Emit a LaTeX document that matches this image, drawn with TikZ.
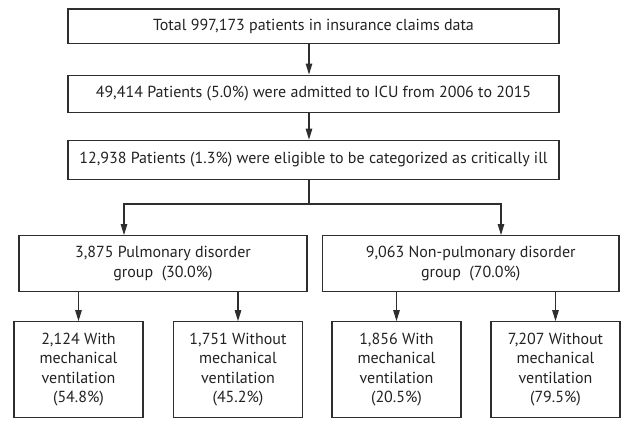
\documentclass[tikz,border=0pt]{standalone}
\usepackage{fontspec}
\setmainfont{PT Sans}
\usepackage{tikz}
\usetikzlibrary{arrows.meta, positioning, calc}
\definecolor{flowline}{HTML}{2e2e2e}
\definecolor{flowtext}{HTML}{222222}

\begin{document}
\begin{tikzpicture}[
    x=1pt, y=-1pt,
    font=\fontsize{16}{19.5}\selectfont,
    wide/.style={rectangle, draw=flowline, line width=1.1pt, text=flowtext, minimum width=491pt, minimum height=36pt, inner sep=0pt, align=center},
    group/.style={rectangle, draw=flowline, line width=1.1pt, text=flowtext, minimum height=56pt, inner sep=0pt, align=center},
    leaf/.style={rectangle, draw=flowline, line width=1.1pt, text=flowtext, minimum width=129pt, minimum height=96pt, inner sep=0pt, align=center},
    arrow/.style={-{Triangle[width=6.5pt, length=11pt]}, line width=1.1pt, flowline},
    link/.style={line width=1.1pt, flowline}
]
\useasboundingbox (0,0) rectangle (633,426);

% Column: the three cohort steps
\node[wide, minimum height=34.5pt] (total) at (313.5,26.25) {Total 997,173 patients in insurance claims data};
\node[wide, minimum height=37pt, below=30.5pt of total] (admit) {49,414 Patients (5.0\%) were admitted to ICU from 2006 to 2015};
\node[wide, minimum height=39pt, below=27pt of admit] (eligible) {12,938 Patients (1.3\%) were eligible to be categorized as critically ill};

% Row 2: disorder groups
\node[group, minimum width=288pt] (pulm) at (163,263.6) {3,875 Pulmonary disorder\\group\ \ (30.0\%)};
\node[group, minimum width=296.5pt] (nonpulm) at (470.75,263.6) {9,063 Non-pulmonary disorder\\group\ \ (70.0\%)};

% Row 3: ventilation
\node[leaf] (pulm_mv) at (78.5,369.7) {2,124 With\\mechanical\\ventilation\\(54.8\%)};
\node[leaf] (pulm_nomv) at (238,369.7) {1,751 Without\\mechanical\\ventilation\\(45.2\%)};
\node[leaf] (non_mv) at (396.5,369.7) {1,856 With\\mechanical\\ventilation\\(20.5\%)};
\node[leaf] (non_nomv) at (555.5,369.7) {7,207 Without\\mechanical\\ventilation\\(79.5\%)};

% Spine and fork
\coordinate (spine) at (309,0);
\coordinate (fork) at (309,204);

\draw[arrow] (total.south -| spine) -- (admit.north -| spine);
\draw[arrow] (admit.south -| spine) -- (eligible.north -| spine);
\draw[link] (eligible.south -| spine) -- (fork);
\draw[arrow] (fork) -| ([xshift=-39pt]pulm.north);
\draw[arrow] (fork) -| ([xshift=30.25pt]nonpulm.north);

% Leaf arrows
\draw[arrow] (pulm.south -| pulm_mv) -- (pulm_mv.north);
\draw[arrow] (pulm.south -| pulm_nomv) -- (pulm_nomv.north);
\draw[arrow] (nonpulm.south -| non_mv) -- (non_mv.north);
\draw[arrow] (nonpulm.south -| non_nomv) -- (non_nomv.north);

\end{tikzpicture}
\end{document}
